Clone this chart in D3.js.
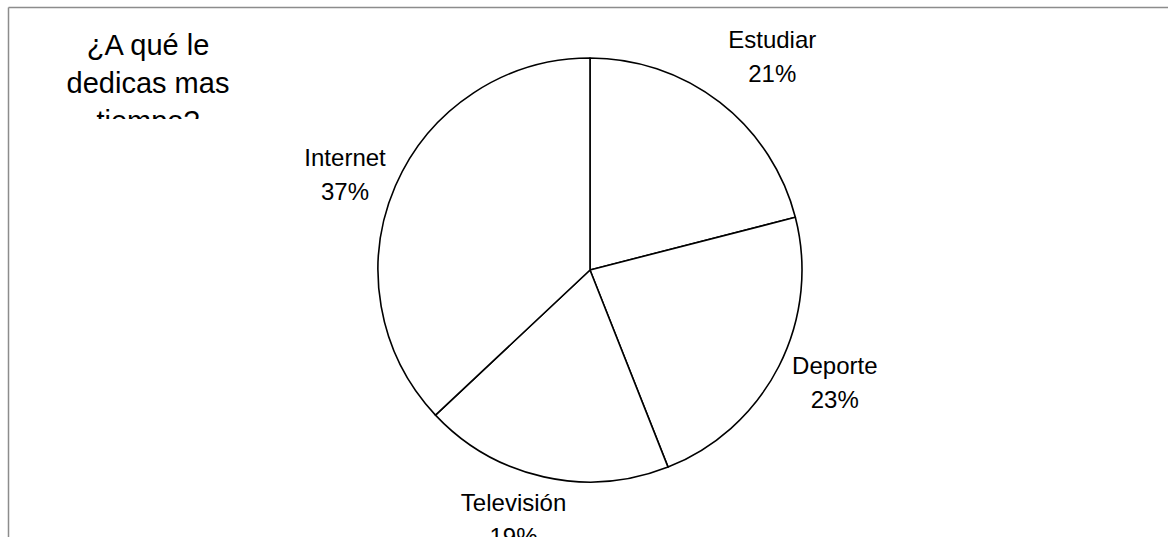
<!DOCTYPE html>
<html>
<head>
<meta charset="utf-8">
<script src="https://cdn.jsdelivr.net/npm/d3@7"></script>
<style>
  html, body { margin: 0; padding: 0; background: #fff; overflow: hidden; }
  svg { display: block; font-family: "Liberation Sans", Arial, sans-serif; }
</style>
</head>
<body>
<svg id="chart" width="1168" height="537"></svg>
<script>
// Time-use survey: share of each activity
const categories = ["Estudiar", "Deporte", "Televisión", "Internet"];
const percents = [21, 23, 19, 37];
const titleLines = ["¿A qué le", "dedicas mas", "tiempo?"];

const svg = d3.select("#chart");
const W = 1168, H = 537;

// chart area frame (top and left edges visible)
svg.append("line").attr("x1", 8.5).attr("y1", 7.5).attr("x2", W).attr("y2", 7.5)
  .attr("stroke", "#8c8c8c").attr("stroke-width", 1.5);
svg.append("line").attr("x1", 8.5).attr("y1", 7.5).attr("x2", 8.5).attr("y2", H)
  .attr("stroke", "#8c8c8c").attr("stroke-width", 1.5);

// title, clipped to its box
svg.append("clipPath").attr("id", "titleClip")
  .append("rect").attr("x", 20).attr("y", 20).attr("width", 260).attr("height", 99);
const title = svg.append("text")
  .attr("clip-path", "url(#titleClip)")
  .attr("text-anchor", "middle")
  .attr("font-size", 29)
  .attr("fill", "#000");
titleLines.forEach((t, i) => {
  title.append("tspan").attr("x", 148).attr("y", 55 + i * 38).text(t);
});

// pie
const cx = 590, cy = 270, r = 212;
const pie = d3.pie().sort(null).value(d => d)(percents);
const arc = d3.arc().innerRadius(0).outerRadius(r);
const g = svg.append("g").attr("transform", `translate(${cx},${cy})`);
g.selectAll("path").data(pie).join("path")
  .attr("d", arc)
  .attr("fill", "#fff")
  .attr("stroke", "#000")
  .attr("stroke-width", 1.6)
  .attr("stroke-linejoin", "round");

// labels placed outside each slice, with small nudges to keep them clear of the rim
const labelArc = d3.arc().innerRadius(268).outerRadius(268);
const nudge = { "Estudiar": [18, -1], "Deporte": [6, -9], "Televisión": [-18, -12], "Internet": [1, 11] };
const labels = g.selectAll("text.lbl").data(pie).join("text")
  .attr("class", "lbl")
  .attr("text-anchor", "middle")
  .attr("font-size", 24)
  .attr("fill", "#000")
  .attr("transform", (d, i) => {
    const [x, y] = labelArc.centroid(d);
    const [nx, ny] = nudge[categories[i]];
    return `translate(${x + nx},${y + ny})`;
  });
labels.append("tspan").attr("x", 0).attr("y", -9).text((d, i) => categories[i]);
labels.append("tspan").attr("x", 0).attr("y", 25).text(d => d.data + "%");
</script>
</body>
</html>
